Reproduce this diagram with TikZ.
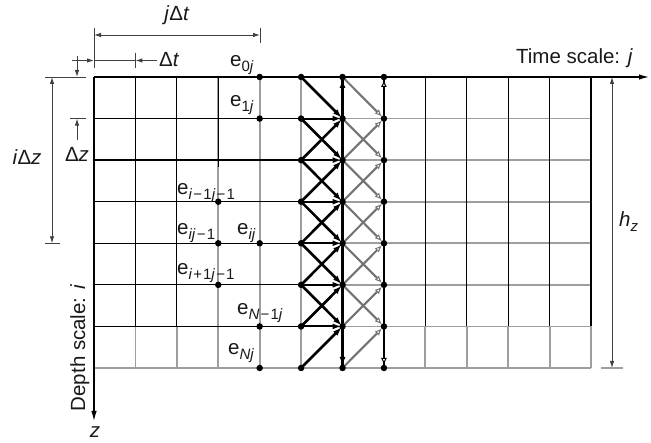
\documentclass[tikz,border=0pt]{standalone}
\usepackage{fontspec}
\setmainfont{Liberation Sans}
\usetikzlibrary{arrows.meta,calc}

% subscript set lower and smaller, as in the labels e_{ij}
\newcommand\sbs[1]{\raisebox{-5pt}{\fontsize{15}{15}\selectfont #1}}
\newcommand\mn{\kern1.2pt−\kern1.2pt}

\begin{document}
\begin{tikzpicture}[x=1pt,y=-1pt,
  font=\fontsize{20.5}{24}\selectfont,
  blk/.style={draw=black,line width=1.3pt},
  gry/.style={draw=black!38,line width=1.8pt},
  thk/.style={draw=black,line width=2.6pt},
  half/.style={draw=black!55,line width=2.1pt},
  dimln/.style={draw=black!75,line width=0.9pt},
  tipb/.style={-{Latex[length=9pt,width=6pt]}},
  tipo/.style={-{Latex[open,length=7pt,width=6pt,line width=1pt,fill=white]}},
  dtips/.style={{Latex[length=7pt,width=4.5pt]}-{Latex[length=7pt,width=4.5pt]}},
  dtip/.style={-{Latex[length=7pt,width=4.5pt]}},
  dot/.style={circle,fill=black,inner sep=0pt,minimum size=6.5pt},
  lab/.style={inner sep=0pt,text=black!90},
]
\useasboundingbox (0,0) rectangle (651,443);

% grid points: 12 time steps, 7 depth steps
\foreach \c in {0,...,12}{
  \foreach \r in {0,...,7}{
    \coordinate (g\c-\r) at ({94+41.42*\c},{77+41.57*\r});
  }
}

% ---- grey grid lines
\foreach \c in {1,2,8,9,10,11,12} \draw[gry] (g\c-6) -- (g\c-7);
\foreach \c in {3,4,5} \draw[gry] (g\c-0) -- (g\c-7);
\foreach \r in {1,...,6} \draw[gry] (g6-\r) -- (g12-\r);
\draw[gry] (g0-7) -- (g12-7);

% ---- black grid lines
\foreach \r in {1,...,6} \draw[blk] (g0-\r) -- (g5-\r);
\foreach \c in {1,2,8,9,10,11,12} \draw[blk] (g\c-0) -- (g\c-6);
\coordinate (c3stop) at ($(g3-0)+(0,90)$);
\draw[blk] (g3-0) -- (c3stop);
\draw[draw=black,line width=2.2pt] (g6-0) -- (g6-7);
\draw[draw=black,line width=1.6pt] (g7-0) -- (g7-7);

% ---- axes
\coordinate (tEnd) at (649,77);
\coordinate (zEnd) at (94,421);
\draw[blk,-{Latex[length=10pt,width=5.5pt]}] (g0-0) -- (tEnd);
\draw[blk,-{Latex[length=10pt,width=5.5pt]}] (g0-0) -- (zEnd);

% ---- difference stencil between columns j-1, j and j+1
\foreach \r [evaluate=\r as \p using int(\r-1), evaluate=\r as \n using int(\r+1)] in {1,...,6}{
  \draw[half,tipo,shorten >=3pt] (g6-\p) -- (g7-\r);
  \draw[half,tipo,shorten >=3pt] (g6-\n) -- (g7-\r);
  \draw[thk,tipb,shorten >=1pt] (g5-\p) -- (g6-\r);
  \draw[thk,tipb,shorten >=1pt] (g5-\n) -- (g6-\r);
  \draw[blk,line width=1.9pt,tipb,shorten >=1pt] (g5-\r) -- (g6-\r);
}
% boundary transfers at top and bottom
\draw[thk,tipb,shorten >=2pt] (g6-1) -- (g6-0);
\draw[thk,tipb,shorten >=2pt] (g6-6) -- (g6-7);
\draw[draw=black,line width=1.4pt,tipo,shorten >=3pt] (g7-1) -- (g7-0);
\draw[draw=black,line width=1.4pt,tipo,shorten >=3pt] (g7-6) -- (g7-7);

% ---- grid nodes
\foreach \c in {5,6,7}{
  \foreach \r in {0,...,7} \node[dot] (d\c-\r) at (g\c-\r) {};
}
\foreach \r in {0,1,4,6,7} \node[dot] (d4-\r) at (g4-\r) {};
\foreach \r in {3,4,5} \node[dot] (d3-\r) at (g3-\r) {};

% ---- node labels
\node[lab,anchor=base west] (l0j) at (230,67) {e\sbs{0\textit{j}}};
\node[lab,anchor=base west] (l1j) at (230,107) {e\sbs{1\textit{j}}};
\node[lab,anchor=base west] (lim) at (177,195) {e\sbs{\textit{i}\mn1\textit{j}\mn1}};
\node[lab,anchor=base west] (lijm) at (177,235) {e\sbs{\textit{ij}\mn1}};
\node[lab,anchor=base west] (lij) at (237,235) {e\sbs{\textit{ij}}};
\node[lab,anchor=base west] (lip) at (177,275) {e\sbs{\textit{i}\kern1pt+\kern1pt1\textit{j}\mn1}};
\node[lab,anchor=base west] (lNm) at (237,315) {e\sbs{\textit{N}\mn1\textit{j}}};
\node[lab,anchor=base west] (lN) at (228,355) {e\sbs{\textit{Nj}}};

% ---- axis labels
\node[lab,anchor=base east] (tlab) at (633,64) {Time scale: \textit{j}};
\node[lab,rotate=90,anchor=base] (dlab) at (85,348) {Depth scale: \textit{i}};
\node[lab,anchor=base] (zlab) at (95,438) {\textit{z}};

% ---- j dt dimension
\coordinate (jA) at (94,35);  \coordinate (jB) at (260,35);
\coordinate (jAt) at (94,28); \coordinate (jAb) at (94,68);
\coordinate (jBt) at (260,28); \coordinate (jBb) at (260,43);
\draw[dimln] (jAt) -- (jAb);
\draw[dimln] (jBt) -- (jBb);
\draw[dimln,dtips] (jA) -- (jB);
\node[lab,anchor=base] (jdt) at (177,21) {\textit{j}Δ\textit{t}};

% ---- dt dimension
\coordinate (tA) at (72,60.5);  \coordinate (tB) at (94,60.5);
\coordinate (tC) at (135.4,60.5); \coordinate (tD) at (157,60.5);
\coordinate (tCt) at (135.4,53); \coordinate (tCb) at (135.4,68);
\draw[dimln] (tCt) -- (tCb);
\draw[dimln] (tB) -- (tC);
\draw[dimln,dtip] (tA) -- (tB);
\draw[dimln,dtip] (tD) -- (tC);
\node[lab,anchor=base west] (dtl) at (159,67) {Δ\textit{t}};

% ---- dz dimension
\coordinate (zA) at (77,56); \coordinate (zB) at (77,77);
\coordinate (zC) at (77,118.6); \coordinate (zD) at (77,140);
\coordinate (k0a) at (45,77); \coordinate (k0b) at (86,77);
\coordinate (k1a) at (70,118.6); \coordinate (k1b) at (86,118.6);
\draw[dimln] (k0a) -- (k0b);
\draw[dimln] (k1a) -- (k1b);
\draw[dimln,dtip] (zA) -- (zB);
\draw[dimln,dtip] (zD) -- (zC);
\node[lab,anchor=base] (dzl) at (77,162) {Δ\textit{z}};

% ---- i dz dimension
\coordinate (iA) at (52,77); \coordinate (iB) at (52,243.3);
\coordinate (k4a) at (45,243.3); \coordinate (k4b) at (60,243.3);
\draw[dimln] (k4a) -- (k4b);
\draw[dimln,dtips] (iA) -- (iB);
\node[lab,anchor=base] (idzl) at (27,165) {\textit{i}Δ\textit{z}};

% ---- h_z dimension
\coordinate (hA) at (612,77); \coordinate (hB) at (612,368);
\coordinate (hka) at (601,368); \coordinate (hkb) at (623,368);
\draw[gry,line width=1.4pt] (hka) -- (hkb);
\draw[dimln,dtips] (hA) -- (hB);
\node[lab,anchor=base west] (hzl) at (619,227) {\textit{h}\sbs{\textit{z}}};
\end{tikzpicture}
\end{document}
